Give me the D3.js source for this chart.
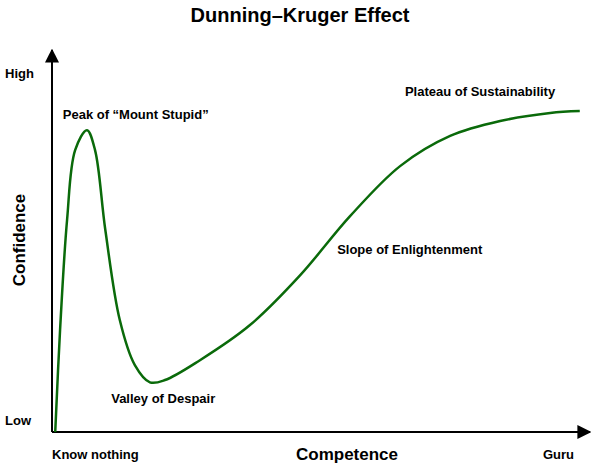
<!DOCTYPE html>
<html><head><meta charset="utf-8">
<script src="https://cdn.jsdelivr.net/npm/d3@7"></script>
<style>body{margin:0;background:#fff}text{font-family:"Liberation Sans",Arial,sans-serif;font-weight:bold;fill:#000}</style>
</head><body>
<script>
// competence (0-100) vs confidence (0-100)
const competence = [0.6,1.5,2.8,4.3,6.5,8,9.9,12.6,15.4,18.2,21,27.5,36.8,46.1,55.4,64.7,74,83.3,92.6,98.1];
const confidence = [0,26.7,55.5,73.8,79,73.8,53,29.3,17.5,13,13.6,18.8,28,41,56.5,69.6,77.5,81.4,83.5,84];
const labels = [
  {text:"Peak of \u201cMount Stupid\u201d", x:2, y:82},
  {text:"Valley of Despair", x:11, y:7.5},
  {text:"Slope of Enlightenment", x:53, y:46.5},
  {text:"Plateau of Sustainability", x:65.6, y:88}
];

const W = 600, H = 467;
const svg = d3.select("body").append("svg").attr("width", W).attr("height", H);
const x = d3.scaleLinear().domain([0,100]).range([52,590]);
const y = d3.scaleLinear().domain([0,100]).range([432,50]);

svg.append("defs").append("marker").attr("id","arr")
  .attr("viewBox","0 0 10 10").attr("refX",9).attr("refY",5)
  .attr("markerWidth",7).attr("markerHeight",7).attr("orient","auto-start-reverse")
  .append("path").attr("d","M0,0L10,5L0,10z").attr("fill","#000");

svg.append("line").attr("x1",x(0)).attr("y1",y(0)).attr("x2",x(100)).attr("y2",y(0))
  .attr("stroke","#000").attr("stroke-width",2).attr("marker-end","url(#arr)");
svg.append("line").attr("x1",x(0)).attr("y1",y(0)).attr("x2",x(0)).attr("y2",y(100))
  .attr("stroke","#000").attr("stroke-width",2).attr("marker-end","url(#arr)");

const pts = competence.map((c,i)=>[c, confidence[i]]);
svg.append("path").datum(pts)
  .attr("d", d3.line().x(d=>x(d[0])).y(d=>y(d[1])).curve(d3.curveCatmullRom))
  .attr("fill","none").attr("stroke","#0a6a0a").attr("stroke-width",2.5);

svg.append("text").attr("x",300).attr("y",22).attr("text-anchor","middle").style("font-size","20px").text("Dunning\u2013Kruger Effect");
svg.append("text").attr("x",5).attr("y",78).style("font-size","13px").text("High");
svg.append("text").attr("x",5).attr("y",425).style("font-size","13px").text("Low");
svg.append("text").attr("transform","translate(25,240) rotate(-90)").attr("text-anchor","middle").style("font-size","17px").text("Confidence");
svg.append("text").attr("x",52).attr("y",459).style("font-size","13px").text("Know nothing");
svg.append("text").attr("x",347).attr("y",460).attr("text-anchor","middle").style("font-size","17px").text("Competence");
svg.append("text").attr("x",574).attr("y",459).attr("text-anchor","end").style("font-size","13px").text("Guru");

svg.selectAll(".lab").data(labels).join("text").attr("class","lab")
  .attr("x",d=>x(d.x)).attr("y",d=>y(d.y)).style("font-size","13px").text(d=>d.text);
</script>
</body></html>
